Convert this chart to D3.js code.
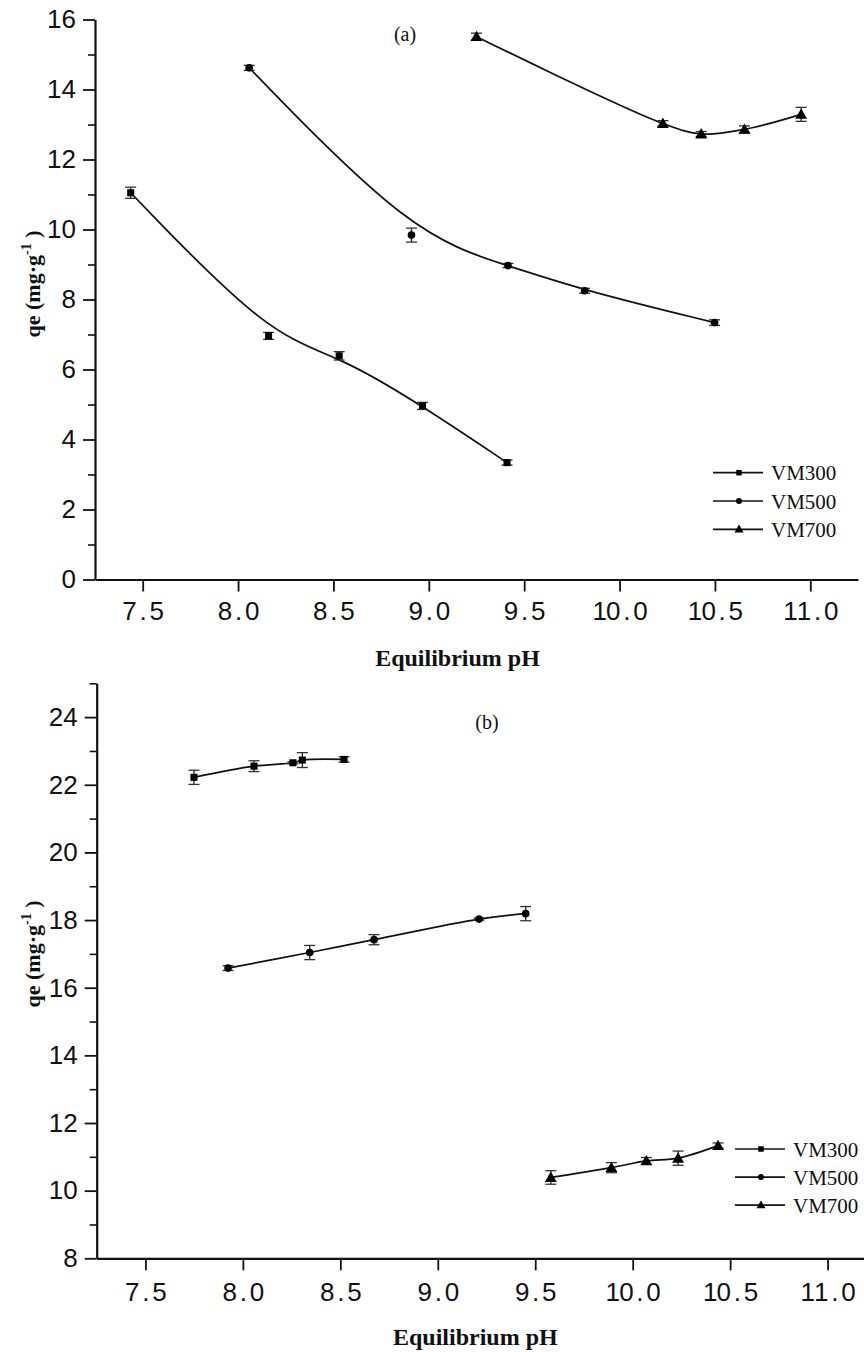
<!DOCTYPE html>
<html>
<head>
<meta charset="utf-8">
<script src="https://cdn.jsdelivr.net/npm/d3@7"></script>
<style>
  html, body { margin: 0; padding: 0; background: #fff; }
  svg { display: block; }
</style>
</head>
<body>
<script>
// ---------------- DATA ----------------
const seriesNames = ["VM300", "VM500", "VM700"];
const xTickValues = [7.5, 8.0, 8.5, 9.0, 9.5, 10.0, 10.5, 11.0];
const xTitle = "Equilibrium pH";

// Panel (a)
const aYTicks = [0, 2, 4, 6, 8, 10, 12, 14, 16];
const a_VM300_pH = [7.437, 8.16, 8.53, 8.967, 9.41];
const a_VM300_qe = [11.05, 6.96, 6.39, 4.96, 3.34];
const a_VM300_err = [0.16, 0.10, 0.12, 0.10, 0.07];
const a_VM500_pH = [8.058, 8.909, 9.415, 9.817, 10.498];
const a_VM500_qe = [14.62, 9.84, 8.97, 8.25, 7.34];
const a_VM500_err = [0.07, 0.20, 0.06, 0.07, 0.08];
const a_VM700_pH = [9.25, 10.227, 10.428, 10.655, 10.952];
const a_VM700_qe = [15.51, 13.03, 12.73, 12.86, 13.29];
const a_VM700_err = [0.10, 0.08, 0.07, 0.10, 0.20];

// Panel (b)
const bYTicks = [8, 10, 12, 14, 16, 18, 20, 22, 24];
const b_VM300_pH = [7.749, 8.057, 8.257, 8.305, 8.519];
const b_VM300_qe = [22.22, 22.55, 22.65, 22.73, 22.75];
const b_VM300_err = [0.21, 0.16, 0.03, 0.22, 0.08];
const b_VM500_pH = [7.924, 8.343, 8.673, 9.212, 9.451];
const b_VM500_qe = [16.58, 17.04, 17.42, 18.03, 18.19];
const b_VM500_err = [0.07, 0.21, 0.15, 0.03, 0.21];
const b_VM700_pH = [9.58, 9.891, 10.07, 10.233, 10.438];
const b_VM700_qe = [10.39, 10.68, 10.88, 10.96, 11.33];
const b_VM700_err = [0.20, 0.15, 0.10, 0.21, 0.08];

// ---------------- BUILD ----------------
const W = 864, H = 1352;
const svg = d3.select("body").append("svg").attr("width", W).attr("height", H);

const symbols = [d3.symbolSquare, d3.symbolCircle, d3.symbolTriangle];
const symSize = [50, 46, 62];
const legSize = [30, 28, 36];

function zip(xs, ys, es) { return xs.map((x, i) => ({x, y: ys[i], e: es[i]})); }

function drawPanel(cfg) {
  const g = svg.append("g");
  const x = d3.scaleLinear().domain(cfg.xDomain).range(cfg.xRange);
  const y = d3.scaleLinear().domain(cfg.yDomain).range(cfg.yRange);

  // minor y ticks
  const minor = d3.range(cfg.yDomain[0] + 1, cfg.yDomain[1] + 0.001, 2);
  g.append("g").attr("transform", `translate(${cfg.xRange[0]},0)`)
    .call(d3.axisLeft(y).tickValues(minor).tickSize(7).tickSizeOuter(0).tickFormat(""))
    .call(s => s.select(".domain").remove())
    .call(s => s.selectAll("line").attr("stroke", "#111").attr("stroke-width", 1.6));

  // major y axis
  const ya = g.append("g").attr("transform", `translate(${cfg.xRange[0]},0)`)
    .call(d3.axisLeft(y).tickValues(cfg.yTicks).tickSize(12).tickSizeOuter(0).tickPadding(7).tickFormat(d3.format("d")));
  ya.select(".domain").attr("stroke", "#111").attr("stroke-width", 2.2);
  ya.selectAll("line").attr("stroke", "#111").attr("stroke-width", 1.8);
  ya.selectAll("text").attr("font-family", "'Liberation Sans', Arial, sans-serif")
    .attr("font-size", 26).attr("fill", "#111");

  // x axis
  const xa = g.append("g").attr("transform", `translate(0,${cfg.yRange[0]})`)
    .call(d3.axisBottom(x).tickValues(xTickValues).tickSize(12).tickSizeOuter(0).tickPadding(cfg.xPad).tickFormat(d3.format(".1f")));
  xa.select(".domain").attr("stroke", "#111").attr("stroke-width", 2.2);
  xa.selectAll("line").attr("stroke", "#111").attr("stroke-width", 1.8);
  xa.selectAll("text").attr("font-family", "'Liberation Sans', Arial, sans-serif")
    .attr("font-size", 26).attr("fill", "#111")
    .each(function() {
      const t = d3.select(this);
      const s = t.text();
      t.text("");
      const cell = 13.6, n = s.length;
      for (let i = 0; i < n; i++) {
        t.append("tspan").attr("x", (i - (n - 1) / 2) * cell).attr("text-anchor", "middle").text(s[i]);
      }
    });

  // axis titles
  svg.append("text")
    .attr("x", (cfg.xRange[0] + Math.min(cfg.xRange[1], W)) / 2 + cfg.xTitleDx)
    .attr("y", cfg.xTitleY)
    .attr("text-anchor", "middle")
    .attr("font-family", "'Liberation Serif', 'Times New Roman', serif")
    .attr("font-weight", "bold").attr("font-size", 24).attr("fill", "#111")
    .text(xTitle);

  const yt = svg.append("text")
    .attr("transform", `translate(${cfg.yTitleX},${cfg.yTitleY}) rotate(-90)`)
    .attr("text-anchor", "middle")
    .attr("font-family", "'Liberation Serif', 'Times New Roman', serif")
    .attr("font-weight", "bold").attr("font-size", 22).attr("fill", "#111");
  yt.append("tspan").text("qe (mg·g");
  yt.append("tspan").attr("dy", -9).attr("font-size", 14).text("-1");
  yt.append("tspan").attr("dy", 9).text(" )");

  // panel label
  svg.append("text")
    .attr("x", cfg.labelX).attr("y", cfg.labelY)
    .attr("text-anchor", "middle")
    .attr("font-family", "'Liberation Serif', 'Times New Roman', serif")
    .attr("font-size", 20).attr("fill", "#111")
    .text(cfg.label);

  // series
  cfg.series.forEach((sr, si) => {
    const data = zip(sr.x, sr.y, sr.e);
    const line = d3.line().x(d => x(d.x)).y(d => y(d.y)).curve(sr.curve);
    g.append("path").datum(data).attr("d", line)
      .attr("fill", "none").attr("stroke", "#111").attr("stroke-width", 1.7);

    const eb = g.append("g");
    data.forEach(d => {
      const x0 = x(d.x), y1 = y(d.y - d.e), y2 = y(d.y + d.e);
      eb.append("line").attr("x1", x0).attr("x2", x0).attr("y1", y1).attr("y2", y2)
        .attr("stroke", "#222").attr("stroke-width", 1.3);
      [y1, y2].forEach(yy => eb.append("line").attr("x1", x0 - 5.5).attr("x2", x0 + 5.5)
        .attr("y1", yy).attr("y2", yy).attr("stroke", "#333").attr("stroke-width", 1.3));
    });

    g.append("g").selectAll("path").data(data).join("path")
      .attr("transform", d => `translate(${x(d.x)},${y(d.y) + (si === 2 ? 1 : 0)})`)
      .attr("d", d3.symbol().type(symbols[si]).size(symSize[si]))
      .attr("fill", "#000");
  });

  // legend
  const lg = svg.append("g");
  seriesNames.forEach((name, i) => {
    const yy = cfg.legY + i * cfg.legStep;
    lg.append("line").attr("x1", cfg.legX).attr("x2", cfg.legX + 50)
      .attr("y1", yy).attr("y2", yy).attr("stroke", "#111").attr("stroke-width", 1.7);
    lg.append("path").attr("transform", `translate(${cfg.legX + 26},${yy + (i === 2 ? 0.5 : 0)})`)
      .attr("d", d3.symbol().type(symbols[i]).size(legSize[i])).attr("fill", "#000");
    lg.append("text").attr("x", cfg.legX + 58).attr("y", yy + 7.5)
      .attr("font-family", "'Liberation Serif', 'Times New Roman', serif")
      .attr("font-size", 21).attr("fill", "#111").text(name);
  });
}

drawPanel({
  xDomain: [7.25, 11.25], xRange: [95, 858],
  yDomain: [0, 16], yRange: [579.5, 19.5], yTicks: aYTicks, xPad: 10,
  xTitleY: 666, xTitleDx: -19, yTitleX: 40, yTitleY: 284,
  label: "(a)", labelX: 405, labelY: 41,
  legX: 713, legY: 472.7, legStep: 28.3,
  series: [
    {x: a_VM300_pH, y: a_VM300_qe, e: a_VM300_err, curve: d3.curveBasis},
    {x: a_VM500_pH, y: a_VM500_qe, e: a_VM500_err, curve: d3.curveBasis},
    {x: a_VM700_pH, y: a_VM700_qe, e: a_VM700_err, curve: d3.curveCatmullRom}
  ]
});

drawPanel({
  xDomain: [7.25, 11.25], xRange: [96.7, 876.3],
  yDomain: [8, 25], yRange: [1258.3, 683.3], yTicks: bYTicks, xPad: 12,
  xTitleY: 1345, xTitleDx: -5, yTitleX: 40, yTitleY: 954,
  label: "(b)", labelX: 487, labelY: 729,
  legX: 735, legY: 1149, legStep: 28.1,
  series: [
    {x: b_VM300_pH, y: b_VM300_qe, e: b_VM300_err, curve: d3.curveCatmullRom},
    {x: b_VM500_pH, y: b_VM500_qe, e: b_VM500_err, curve: d3.curveCatmullRom},
    {x: b_VM700_pH, y: b_VM700_qe, e: b_VM700_err, curve: d3.curveCatmullRom}
  ]
});
</script>
</body>
</html>
